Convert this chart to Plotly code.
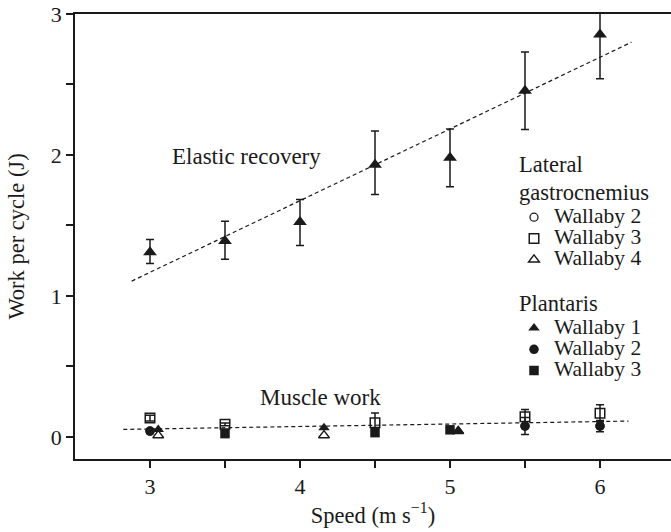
import plotly.graph_objects as go

FONT = "'Liberation Serif', 'Times New Roman', Times, 'DejaVu Serif', serif"
INK = "#1a1a1a"

# ---- data ----
speed_ticks = [3, 4, 5, 6]
speed_ticktext = ["3", "4", "5", "6"]
speed_minor = [3.5, 4.5, 5.5]
work_ticks = [0, 1, 2, 3]
work_ticktext = ["0", "1", "2", "3"]
work_minor = [0.5, 1.5, 2.5]

# Elastic recovery (filled triangles, mean with error bars)
er_x = [3.0, 3.5, 4.0, 4.5, 5.0, 5.5, 6.0]
er_y = [1.31, 1.39, 1.525, 1.93, 1.98, 2.455, 2.855]
er_hi = [1.40, 1.53, 1.684, 2.17, 2.185, 2.73, 3.15]
er_lo = [1.23, 1.26, 1.358, 1.72, 1.775, 2.18, 2.54]

# Muscle work - lateral gastrocnemius
lg2_x = [3.0, 5.5, 6.0]
lg2_y = [0.041, 0.077, 0.077]
lg3_x = [3.0, 3.5, 4.5, 5.5, 6.0]
lg3_y = [0.133, 0.089, 0.10, 0.143, 0.167]
lg3_err = [0.02, 0.01, 0.07, 0.052, 0.06]
lg4_x = [3.055, 4.16, 5.055]
lg4_y = [0.011, 0.011, 0.04]

# Muscle work - plantaris
pl1_x = [3.055, 4.16, 5.055]
pl1_y = [0.053, 0.065, 0.045]
pl2_x = [3.0, 5.5, 6.0]
pl2_y = [0.041, 0.077, 0.077]
pl2_err = [0.01, 0.06, 0.04]
pl3_x = [3.5, 4.5, 5.0]
pl3_y = [0.023, 0.03, 0.05]

# Regression lines (end points)
er_fit_x = [2.878, 6.21]
er_fit_y = [1.105, 2.80]
mw_fit_x = [2.822, 6.19]
mw_fit_y = [0.053, 0.112]


def lbl(t, size=21.5):
    return '<span style="font-size:%gpx">%s</span>' % (size, t)


fig = go.Figure()

dash = "4px,3px"
fig.add_trace(go.Scatter(x=er_fit_x, y=er_fit_y, mode="lines",
                         line=dict(color=INK, width=1.2, dash=dash), showlegend=False))
fig.add_trace(go.Scatter(x=mw_fit_x, y=mw_fit_y, mode="lines",
                         line=dict(color=INK, width=1.2, dash=dash), showlegend=False))

err_style = dict(type="data", symmetric=True, color=INK, thickness=1.5, width=4)

# Lateral gastrocnemius group
fig.add_trace(go.Scatter(x=lg2_x, y=lg2_y, mode="markers", name=lbl("Wallaby 2"),
                         legendgroup="lg",
                         legendgrouptitle=dict(text=lbl("Lateral", 22.5) + "<br>" + lbl("gastrocnemius", 22.5),
                                               font=dict(size=21, family=FONT, color=INK)),
                         marker=dict(symbol="circle-open", size=8, color=INK, line=dict(width=1.3))))
fig.add_trace(go.Scatter(x=lg3_x, y=lg3_y, mode="markers", name=lbl("Wallaby 3"),
                         legendgroup="lg",
                         error_y=dict(array=lg3_err, **err_style),
                         marker=dict(symbol="square-open", size=9.5, color=INK, line=dict(width=1.5))))
fig.add_trace(go.Scatter(x=lg4_x, y=lg4_y, mode="markers", name=lbl("Wallaby 4"),
                         legendgroup="lg",
                         marker=dict(symbol="triangle-up-open", size=9.5, color=INK, line=dict(width=1.4))))

# Plantaris group
fig.add_trace(go.Scatter(x=pl1_x, y=pl1_y, mode="markers", name=lbl("Wallaby 1"),
                         legendgroup="pl",
                         legendgrouptitle=dict(text=lbl("Plantaris", 22.5),
                                               font=dict(size=21, family=FONT, color=INK)),
                         marker=dict(symbol="triangle-up", size=10, color=INK)))
fig.add_trace(go.Scatter(x=pl2_x, y=pl2_y, mode="markers", name=lbl("Wallaby 2"),
                         legendgroup="pl",
                         error_y=dict(array=pl2_err, **err_style),
                         marker=dict(symbol="circle", size=9.5, color=INK)))
fig.add_trace(go.Scatter(x=pl3_x, y=pl3_y, mode="markers", name=lbl("Wallaby 3"),
                         legendgroup="pl",
                         marker=dict(symbol="square", size=9.5, color=INK)))

# Elastic recovery
er_plus = [h - y for h, y in zip(er_hi, er_y)]
er_minus = [y - l for y, l in zip(er_y, er_lo)]
fig.add_trace(go.Scatter(x=er_x, y=er_y, mode="markers", showlegend=False,
                         error_y=dict(type="data", symmetric=False, array=er_plus,
                                      arrayminus=er_minus, color=INK, thickness=1.5, width=4),
                         marker=dict(symbol="triangle-up", size=12, color=INK)))

fig.add_annotation(x=3.133, y=1.99, text="Elastic recovery", showarrow=False,
                   xanchor="left", yanchor="middle", font=dict(size=23, family=FONT, color=INK))
fig.add_annotation(x=3.722, y=0.28, text="Muscle work", showarrow=False,
                   xanchor="left", yanchor="middle", font=dict(size=23, family=FONT, color=INK))

axis_common = dict(showgrid=False, zeroline=False, showline=True, linecolor=INK, linewidth=1.5,
                   ticks="outside", ticklen=7, tickwidth=1.5, tickcolor=INK,
                   tickfont=dict(size=22, family=FONT, color=INK))

fig.update_layout(
    width=671, height=532,
    margin=dict(l=75, r=0, t=14, b=73),
    paper_bgcolor="white", plot_bgcolor="white",
    font=dict(family=FONT, color=INK),
    showlegend=True,
    legend=dict(x=(514 - 75) / 596, y=1 - (144 - 14) / 445, xanchor="left", yanchor="top",
                bgcolor="rgba(0,0,0,0)", borderwidth=0, itemwidth=30,
                font=dict(size=14, family=FONT, color=INK), tracegroupgap=17,
                traceorder="grouped", itemclick=False, itemdoubleclick=False),
    xaxis=dict(range=[2.5, 2.5 + 596 / 150], tickvals=speed_ticks, ticktext=speed_ticktext,
               mirror=True,
               minor=dict(tickvals=speed_minor, ticks="outside", ticklen=7, tickwidth=1.5,
                          tickcolor=INK, showgrid=False),
               title=dict(text="Speed (m s<sup>−1</sup>)", font=dict(size=22.5, family=FONT, color=INK),
                          standoff=9),
               **axis_common),
    yaxis=dict(range=[-0.157, 3.0], tickvals=work_ticks, ticktext=work_ticktext,
               minor=dict(tickvals=work_minor, ticks="outside", ticklen=7, tickwidth=1.5,
                          tickcolor=INK, showgrid=False),
               title=dict(text="Work per cycle (J)", font=dict(size=22.5, family=FONT, color=INK),
                          standoff=20),
               **axis_common),
)

fig.write_html("out.html")
